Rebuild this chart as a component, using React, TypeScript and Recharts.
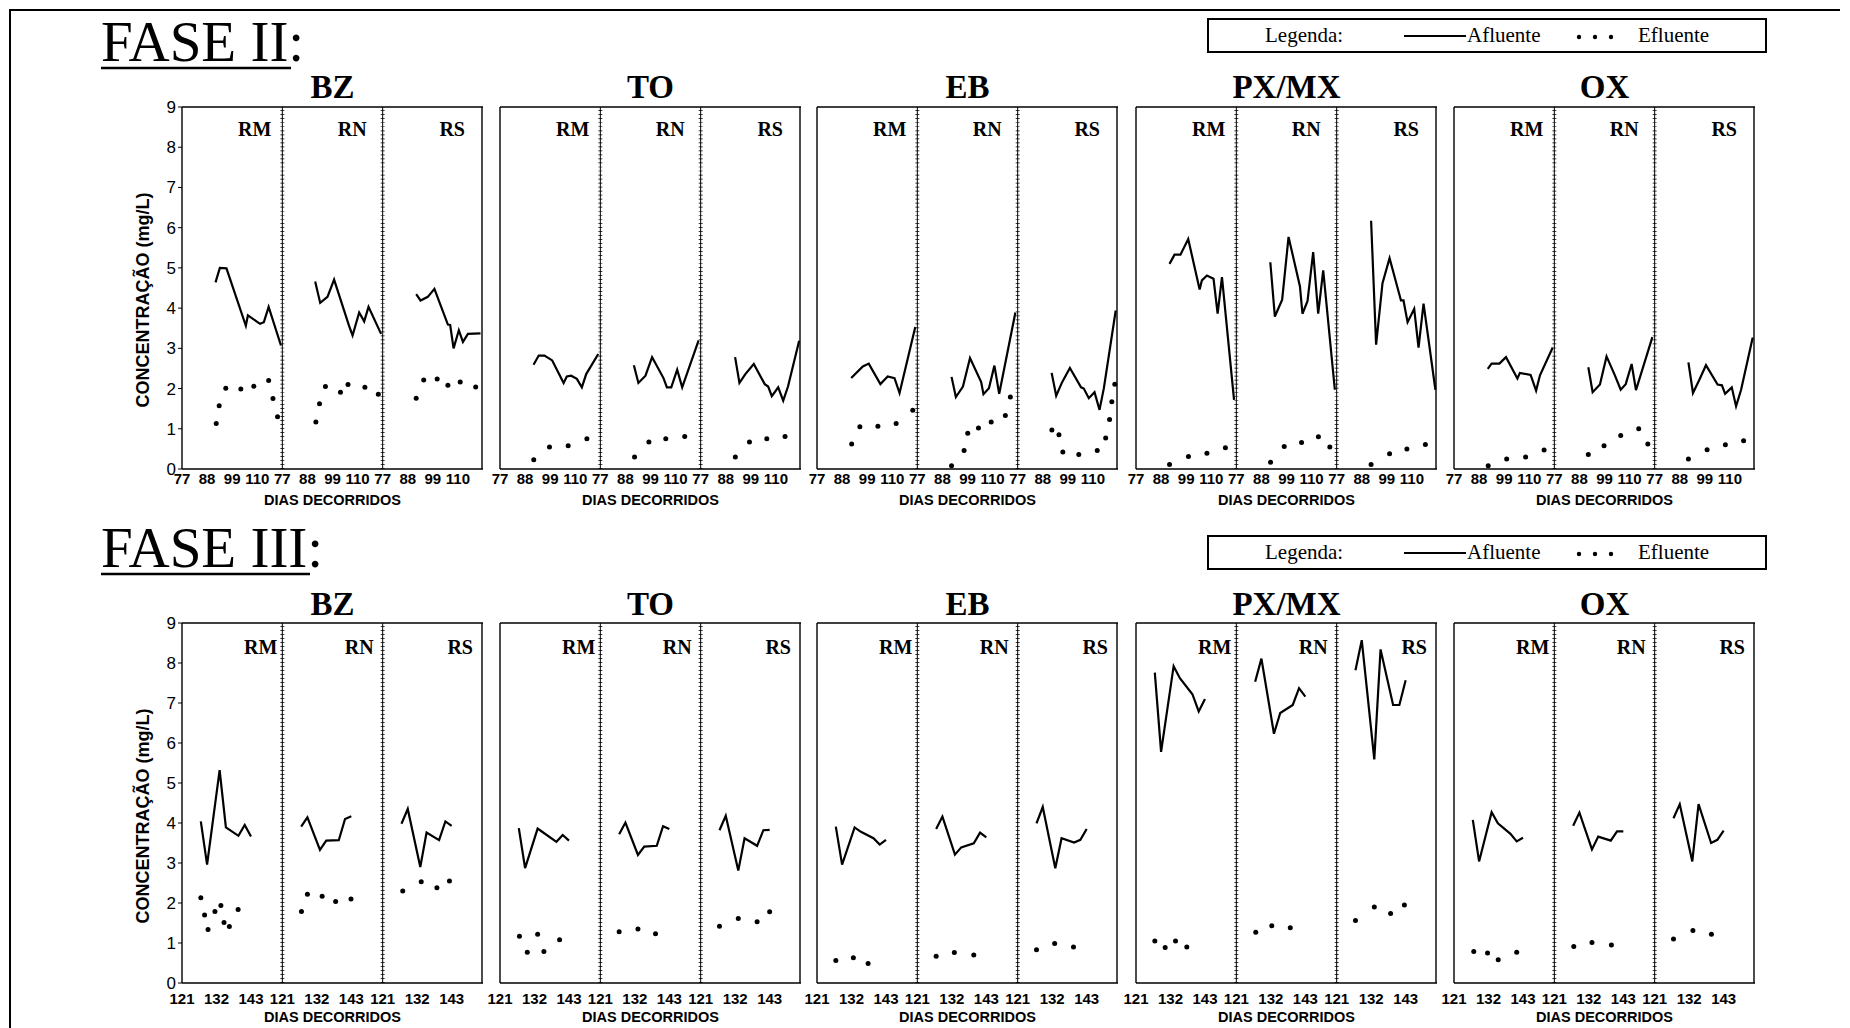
import { LineChart, Line, XAxis, YAxis, ReferenceLine } from 'recharts'

type P = [number, number] // [dia, concentração]

// ---- FASE II (dias 77 a 121) — [RM, RN, RS] ----
const f2BzAfl: P[][] = [
  [[91.7, 4.64], [93.6, 5.0], [96.5, 4.99], [105, 3.56], [105.9, 3.82], [111.2, 3.61], [112.9, 3.65], [115, 4.03], [120.4, 3.07]],
  [[91.4, 4.66], [93.6, 4.13], [96.8, 4.28], [99.7, 4.71], [106.3, 3.55], [107.8, 3.32], [110.7, 3.89], [112.9, 3.67], [114.8, 4.03], [120.3, 3.36]],
  [[91.7, 4.35], [93.6, 4.19], [96.8, 4.28], [99.7, 4.48], [105.6, 3.59], [106.6, 3.58], [108.1, 3.0], [110.4, 3.45], [112.2, 3.16], [114.4, 3.36], [119.9, 3.37]],
]
const f2BzEfl: P[][] = [
  [[92, 1.13], [93.3, 1.57], [96.2, 2.01], [102.8, 1.99], [108.5, 2.06], [115, 2.2], [116.9, 1.75], [118.9, 1.3]],
  [[91.7, 1.17], [93.3, 1.62], [95.9, 2.05], [102.5, 1.91], [105.8, 2.1], [113.2, 2.03], [119.1, 1.86]],
  [[91.7, 1.76], [95, 2.21], [100.9, 2.24], [105.6, 2.08], [111, 2.16], [117.8, 2.04]],
]
const f2ToAfl: P[][] = [
  [[91.7, 2.59], [94, 2.82], [96.5, 2.82], [99.9, 2.7], [104.9, 2.14], [106.3, 2.3], [108.2, 2.32], [110.7, 2.24], [112.9, 2.03], [114.8, 2.36], [120.1, 2.86]],
  [[91.7, 2.58], [93.7, 2.14], [96.8, 2.32], [99.7, 2.78], [104.7, 2.26], [106.2, 2.03], [108.1, 2.03], [110.7, 2.47], [112.9, 2.03], [120.1, 3.2]],
  [[92.1, 2.78], [94, 2.14], [96.6, 2.36], [100.3, 2.61], [105.1, 2.11], [106.6, 2.05], [108.2, 1.81], [111, 2.03], [113.2, 1.7], [115.3, 2.05], [120.2, 3.19]],
]
const f2ToEfl: P[][] = [
  [[91.8, 0.23], [98.7, 0.55], [106.9, 0.58], [115.1, 0.75]],
  [[92, 0.3], [98.3, 0.67], [105.7, 0.75], [114, 0.81]],
  [[92.2, 0.3], [98.4, 0.67], [106, 0.75], [114, 0.81]],
]
const f2EbAfl: P[][] = [
  [[92, 2.26], [97.1, 2.55], [99.7, 2.62], [104.8, 2.11], [108, 2.3], [111, 2.26], [113.2, 1.89], [120.1, 3.53]],
  [[92, 2.29], [93.9, 1.79], [97, 2.05], [100.1, 2.76], [105, 2.16], [106, 1.86], [108.4, 2.01], [110.8, 2.57], [112.9, 1.87], [120, 3.89]],
  [[91.9, 2.39], [93.9, 1.82], [96.5, 2.16], [99.9, 2.51], [104.8, 2.03], [106, 2.0], [108.2, 1.76], [110.7, 1.91], [112.9, 1.47], [114.8, 2.01], [120, 3.94]],
]
const f2EbEfl: P[][] = [
  [[92.2, 0.62], [95.8, 1.05], [103.7, 1.06], [111.7, 1.13], [119, 1.46]],
  [[92, 0.08], [97.5, 0.46], [99.1, 0.89], [103.8, 1.02], [109.4, 1.17], [115.6, 1.33], [117.8, 1.79]],
  [[92, 0.97], [95.1, 0.85], [96.8, 0.42], [103.8, 0.36], [111.9, 0.46], [115.6, 0.77], [117.3, 1.23], [118.3, 1.67], [119.6, 2.11]],
]
const f2PxAfl: P[][] = [
  [[91.7, 5.1], [93.9, 5.33], [96.5, 5.33], [99.9, 5.72], [104.9, 4.46], [105.9, 4.69], [108.1, 4.81], [111, 4.73], [112.8, 3.86], [114.7, 4.77], [120, 1.72]],
  [[91.9, 5.14], [93.9, 3.79], [97.1, 4.21], [99.9, 5.77], [104.9, 4.54], [106, 3.86], [108.2, 4.17], [110.7, 5.39], [112.9, 3.86], [115.1, 4.94], [120.2, 1.97]],
  [[92.1, 6.17], [94.3, 3.09], [97.1, 4.62], [100.2, 5.24], [105.2, 4.19], [106.3, 4.19], [108.1, 3.65], [111, 3.98], [112.9, 3.02], [115.1, 4.11], [120.3, 1.97]],
]
const f2PxEfl: P[][] = [
  [[91.7, 0.11], [100, 0.31], [108.1, 0.39], [116.2, 0.53]],
  [[92, 0.17], [98, 0.56], [105.6, 0.66], [113, 0.8], [118, 0.55]],
  [[92.1, 0.11], [100.2, 0.38], [107.8, 0.5], [115.9, 0.61]],
]
const f2OxAfl: P[][] = [
  [[91.8, 2.49], [93.5, 2.62], [96.9, 2.62], [99.8, 2.78], [104.8, 2.25], [105.9, 2.39], [110.6, 2.34], [113, 1.95], [114.7, 2.33], [120.3, 3.02]],
  [[91.9, 2.53], [93.8, 1.91], [97, 2.1], [99.9, 2.8], [103.6, 2.32], [106.1, 1.97], [108.3, 2.11], [110.9, 2.61], [112.8, 1.96], [120, 3.28]],
  [[91.8, 2.65], [93.8, 1.89], [96.6, 2.22], [99.5, 2.58], [104.6, 2.1], [106.5, 2.08], [107.9, 1.87], [110.8, 2.03], [112.7, 1.56], [114.9, 1.97], [120, 3.27]],
]
const f2OxEfl: P[][] = [
  [[92, 0.08], [100.1, 0.25], [108.4, 0.3], [116.5, 0.47]],
  [[91.9, 0.36], [98.8, 0.58], [106.1, 0.83], [114, 1.0], [118, 0.62]],
  [[91.8, 0.25], [100, 0.48], [108, 0.6], [116, 0.7]],
]

// ---- FASE III (dias 121 a 153) ----
const f3BzAfl: P[][] = [
  [[127, 4.04], [129, 2.96], [133, 5.32], [135, 3.89], [139, 3.68], [141, 3.95], [143, 3.66]],
  [[127, 3.91], [129, 4.14], [133, 3.33], [135, 3.56], [139, 3.57], [141, 4.1], [143, 4.17]],
  [[127, 3.98], [129, 4.35], [133, 2.9], [135, 3.76], [139, 3.57], [141, 4.04], [143, 3.93]],
]
const f3BzEfl: P[][] = [
  [[127, 2.13], [128.2, 1.7], [129.3, 1.34], [131.5, 1.79], [133.4, 1.94], [134.4, 1.51], [136.1, 1.41], [138.9, 1.84]],
  [[127.1, 1.79], [129, 2.22], [133.7, 2.17], [138, 2.04], [142.9, 2.1]],
  [[127.4, 2.3], [133.3, 2.53], [138.3, 2.38], [142.3, 2.55]],
]
const f3ToAfl: P[][] = [
  [[127, 3.87], [129, 2.87], [133, 3.86], [135, 3.75], [139, 3.53], [141, 3.7], [143, 3.56]],
  [[127, 3.72], [129, 4.01], [133, 3.2], [135, 3.41], [139, 3.43], [141, 3.92], [143, 3.85]],
  [[127, 3.82], [129, 4.18], [133, 2.81], [135, 3.62], [139, 3.43], [141, 3.82], [143, 3.83]],
]
const f3ToEfl: P[][] = [
  [[127.2, 1.17], [129.7, 0.77], [133, 1.22], [135, 0.79], [140, 1.08]],
  [[127, 1.28], [133, 1.35], [138.6, 1.23]],
  [[127, 1.42], [133, 1.61], [139, 1.53], [143, 1.78]],
]
const f3EbAfl: P[][] = [
  [[127, 3.91], [129, 2.96], [133, 3.89], [135, 3.78], [139, 3.62], [141, 3.46], [143, 3.58]],
  [[127, 3.85], [129, 4.16], [133, 3.21], [135, 3.39], [139, 3.49], [141, 3.76], [143, 3.64]],
  [[127, 3.99], [129, 4.4], [133, 2.87], [135, 3.62], [139, 3.51], [141, 3.58], [143, 3.85]],
]
const f3EbEfl: P[][] = [
  [[127, 0.56], [132.6, 0.63], [137.3, 0.49]],
  [[127, 0.67], [132.8, 0.76], [139, 0.7]],
  [[127, 0.83], [132.8, 0.99], [138.8, 0.9]],
]
const f3PxAfl: P[][] = [
  [[127, 7.76], [129, 5.78], [133, 7.92], [135, 7.62], [139, 7.22], [141, 6.79], [143, 7.1]],
  [[127, 7.53], [129, 8.11], [133, 6.23], [135, 6.75], [139, 6.95], [141, 7.37], [143, 7.16]],
  [[127, 7.82], [129, 8.57], [133, 5.59], [135, 8.34], [139, 6.95], [141, 6.95], [143, 7.57]],
]
const f3PxEfl: P[][] = [
  [[127, 1.05], [130.3, 0.89], [133.6, 1.05], [137.2, 0.9]],
  [[127.2, 1.27], [132.3, 1.43], [138.2, 1.38]],
  [[127, 1.56], [133, 1.9], [138.2, 1.74], [142.6, 1.95]],
]
const f3OxAfl: P[][] = [
  [[127, 4.08], [129, 3.04], [133, 4.27], [135, 3.99], [139, 3.73], [141, 3.54], [143, 3.63]],
  [[127, 3.93], [129, 4.26], [133, 3.34], [135, 3.66], [139, 3.56], [141, 3.79], [143, 3.79]],
  [[127, 4.12], [129, 4.47], [133, 3.04], [135, 4.47], [139, 3.5], [141, 3.58], [143, 3.81]],
]
const f3OxEfl: P[][] = [
  [[127.3, 0.79], [131.7, 0.75], [135.1, 0.58], [141, 0.77]],
  [[127.2, 0.91], [133, 1.01], [139.2, 0.95]],
  [[127, 1.1], [133.2, 1.31], [139.1, 1.22]],
]

const groupNames = ['BZ', 'TO', 'EB', 'PX/MX', 'OX']
const subNames = ['RM', 'RN', 'RS']
const yTicks = [0, 1, 2, 3, 4, 5, 6, 7, 8, 9]
const f2DayTicks = [77, 88, 99, 110]
const f3DayTicks = [121, 132, 143]

const serif = '"Liberation Serif", "Times New Roman", serif'
const sans = '"Liberation Sans", Arial, sans-serif'

const GROUP_LEFT = [182, 500, 817, 1136, 1454]
const W = 301
const AXW = 40
const PADT = 10
const PADR = 10
const XAH = 34

const phases = [
  {
    title: 'FASE II', top: 107, h: 362, start: 77, span: 44, minorStep: 1, dayTicks: f2DayTicks, tickGap: 4,
    afl: [f2BzAfl, f2ToAfl, f2EbAfl, f2PxAfl, f2OxAfl], efl: [f2BzEfl, f2ToEfl, f2EbEfl, f2PxEfl, f2OxEfl],
    titleY: 61, ulY: 68, ulEnd: 291, groupY: 98, subY: 136, subOff: [11, 16, 18], legTop: 19, xLabY: 505, yLabCY: 300,
  },
  {
    title: 'FASE III', top: 623, h: 360, start: 121, span: 32, minorStep: 0.25, dayTicks: f3DayTicks, tickGap: 10,
    afl: [f3BzAfl, f3ToAfl, f3EbAfl, f3PxAfl, f3OxAfl], efl: [f3BzEfl, f3ToEfl, f3EbEfl, f3PxEfl, f3OxEfl],
    titleY: 567, ulY: 574, ulEnd: 310, groupY: 615, subY: 654, subOff: [5, 9, 10], legTop: 536, xLabY: 1022, yLabCY: 816,
  },
]

type Phase = (typeof phases)[number]

function Group({ ph, gi }: { ph: Phase; gi: number }) {
  const x0 = ph.start
  const x1 = ph.start + 3 * ph.span
  const majors = [0, 1, 2].flatMap((k) => ph.dayTicks.map((t) => t + k * ph.span))
  const minors: number[] = []
  for (let t = x0; t <= x1 + 1e-6; t += ph.minorStep) minors.push(+t.toFixed(3))
  const yMinor: number[] = []
  for (let i = 0; i <= 90; i++) yMinor.push(i / 10)
  const shift = (pts: P[], k: number) => pts.map(([d, v]) => ({ x: d + k * ph.span, v }))
  const thin = { stroke: '#000', strokeWidth: 0.8 }
  const frame = { stroke: '#000', strokeWidth: 1.4 }

  return (
    <div style={{ position: 'absolute', left: GROUP_LEFT[gi] - AXW, top: ph.top - PADT }}>
      <LineChart width={AXW + W + PADR} height={PADT + ph.h + XAH} margin={{ top: PADT, right: PADR, left: 0, bottom: 0 }}>
        <XAxis
          xAxisId="m" type="number" dataKey="x" domain={[x0, x1]} allowDataOverflow ticks={majors} interval={0}
          tickFormatter={(t: number) => String(Math.round(x0 + ((t - x0) % ph.span)))}
          tickLine={false} tickSize={0} tickMargin={ph.tickGap} height={XAH}
          axisLine={frame}
          tick={{ fill: '#000', fontSize: 15, fontWeight: 'bold', fontFamily: sans }}
        />
        <XAxis xAxisId="bMinor" type="number" domain={[x0, x1]} allowDataOverflow ticks={minors} interval={0} mirror height={1} tick={false} tickSize={2.5} axisLine={false} tickLine={thin} />
        <XAxis xAxisId="bMajor" type="number" domain={[x0, x1]} allowDataOverflow ticks={majors} interval={0} mirror height={1} tick={false} tickSize={5} axisLine={false} tickLine={{ stroke: '#000', strokeWidth: 1 }} />
        <XAxis xAxisId="tMinor" orientation="top" type="number" domain={[x0, x1]} allowDataOverflow ticks={minors} interval={0} mirror height={1} tick={false} tickSize={2} axisLine={frame} tickLine={thin} />
        <YAxis
          yAxisId="m" type="number" domain={[0, 9]} allowDataOverflow ticks={yTicks} interval={0} width={AXW}
          tickSize={4} tickMargin={2} tickLine={{ stroke: '#000', strokeWidth: 1 }} axisLine={frame}
          tick={gi === 0 ? { fill: '#000', fontSize: 17, fontFamily: sans } : false}
        />
        <YAxis yAxisId="lMinor" type="number" domain={[0, 9]} allowDataOverflow ticks={yMinor} interval={0} mirror width={1} tick={false} tickSize={2.5} axisLine={false} tickLine={thin} />
        <YAxis yAxisId="rMinor" orientation="right" type="number" domain={[0, 9]} allowDataOverflow ticks={yMinor} interval={0} mirror width={1} tick={false} tickSize={2.5} axisLine={frame} tickLine={thin} />
        <YAxis yAxisId="rMajor" orientation="right" type="number" domain={[0, 9]} allowDataOverflow ticks={yTicks} interval={0} mirror width={1} tick={false} tickSize={4} axisLine={false} tickLine={{ stroke: '#000', strokeWidth: 1 }} />
        {[1, 2].map((k) => (
          <ReferenceLine key={'d' + k} xAxisId="m" yAxisId="m" x={x0 + k * ph.span} stroke="#000" strokeWidth={1} />
        ))}
        {[1, 2].map((k) => (
          <ReferenceLine key={'t' + k} xAxisId="m" yAxisId="m" x={x0 + k * ph.span} stroke="#000" strokeWidth={4} strokeDasharray={`0.7 ${ph.h / 90 - 0.7}`} />
        ))}
        {ph.afl[gi].map((pts, k) => (
          <Line key={'a' + k} xAxisId="m" yAxisId="m" data={shift(pts, k)} dataKey="v" type="linear" stroke="#000" strokeWidth={2.2} dot={false} activeDot={false} isAnimationActive={false} />
        ))}
        {ph.efl[gi].map((pts, k) => (
          <Line key={'e' + k} xAxisId="m" yAxisId="m" data={shift(pts, k)} dataKey="v" type="linear" stroke="none" dot={{ r: 2.5, fill: '#000', stroke: 'none' }} activeDot={false} isAnimationActive={false} />
        ))}
      </LineChart>
    </div>
  )
}

function Legend({ top }: { top: number }) {
  const cy = top + 17
  return (
    <g>
      <rect x={1208} y={top} width={558} height={33} fill="none" stroke="#000" strokeWidth={2} />
      <text x={1265} y={cy + 6} fontFamily={serif} fontSize={21}>Legenda:</text>
      <line x1={1404} y1={cy} x2={1466} y2={cy} stroke="#000" strokeWidth={2} />
      <text x={1467} y={cy + 6} fontFamily={serif} fontSize={21}>Afluente</text>
      {[1579, 1595, 1611].map((x) => (
        <circle key={x} cx={x} cy={cy + 1} r={2.2} fill="#000" />
      ))}
      <text x={1638} y={cy + 6} fontFamily={serif} fontSize={21}>Efluente</text>
    </g>
  )
}

export default function App() {
  return (
    <div style={{ position: 'absolute', left: 0, top: 0, width: 1850, height: 1028, background: '#fff', overflow: 'hidden' }}>
      {phases.map((ph, pi) => groupNames.map((_, gi) => <Group key={pi + '-' + gi} ph={ph} gi={gi} />))}
      <svg width={1850} height={1028} style={{ position: 'absolute', left: 0, top: 0, pointerEvents: 'none' }}>
        <line x1={9} y1={10} x2={1840} y2={10} stroke="#000" strokeWidth={2} />
        <line x1={10} y1={9} x2={10} y2={1028} stroke="#000" strokeWidth={2} />
        {phases.map((ph) => (
          <g key={ph.title}>
            <text x={101} y={ph.titleY} fontFamily={serif} fontSize={57}>{ph.title + ':'}</text>
            <line x1={101} y1={ph.ulY} x2={ph.ulEnd} y2={ph.ulY} stroke="#000" strokeWidth={2.5} />
            <Legend top={ph.legTop} />
            <text
              x={143} y={ph.yLabCY} transform={`rotate(-90 143 ${ph.yLabCY})`} textAnchor="middle" dominantBaseline="central"
              fontFamily={sans} fontWeight="bold" fontSize={18}
            >
              CONCENTRAÇÃO (mg/L)
            </text>
            {groupNames.map((name, gi) => (
              <g key={name}>
                <text x={GROUP_LEFT[gi] + W / 2} y={ph.groupY} textAnchor="middle" fontFamily={serif} fontWeight="bold" fontSize={33}>{name}</text>
                <text x={GROUP_LEFT[gi] + W / 2} y={ph.xLabY} textAnchor="middle" fontFamily={sans} fontWeight="bold" fontSize={14.5}>DIAS DECORRIDOS</text>
                {subNames.map((s, k) => (
                  <text key={s} x={GROUP_LEFT[gi] + (W / 3) * (k + 1) - ph.subOff[k]} y={ph.subY} textAnchor="end" fontFamily={serif} fontWeight="bold" fontSize={20}>{s}</text>
                ))}
              </g>
            ))}
          </g>
        ))}
      </svg>
    </div>
  )
}
